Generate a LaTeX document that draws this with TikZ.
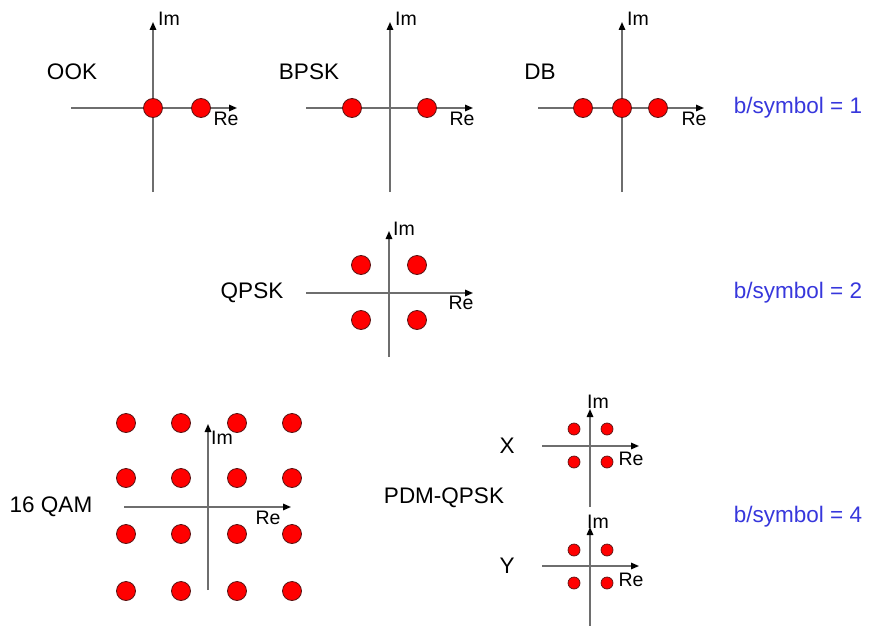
\documentclass[tikz,border=0pt]{standalone}
\usepackage{fontspec}
\setmainfont{Liberation Sans}
\usetikzlibrary{arrows.meta}
\definecolor{axisgray}{RGB}{110,110,110}
\definecolor{symblue}{RGB}{55,55,220}
\definecolor{dotred}{RGB}{255,0,0}
\definecolor{dotedge}{RGB}{90,20,20}
\tikzset{
 axisline/.style={draw=axisgray, line width=1.5pt},
 axisarrow/.style={axisline, -{Triangle[black,length=8pt,width=6.5pt]}},
 bigdot/.style={circle, fill=dotred, draw=dotedge, line width=0.8pt, minimum size=19pt, inner sep=0pt},
 smalldot/.style={circle, fill=dotred, draw=dotedge, line width=0.7pt, minimum size=12pt, inner sep=0pt},
 lbl/.style={font=\fontsize{22.5}{24}\selectfont, inner sep=0pt},
 axlbl/.style={font=\fontsize{19.5}{21}\selectfont, inner sep=0pt},
 rate/.style={font=\fontsize{22.5}{24}\selectfont, text=symblue, inner sep=0pt},
}
\begin{document}
\begin{tikzpicture}[x=1pt,y=-1pt]
\useasboundingbox (0,0) rectangle (870,626);

% ---------- OOK ----------
\coordinate (ookT) at (153,22);  \coordinate (ookB) at (153,192);
\coordinate (ookL) at (71,108);  \coordinate (ookR) at (237,108);
\draw[axisarrow] (ookB) -- (ookT);
\draw[axisarrow] (ookL) -- (ookR);
\node[lbl] (ookname) at (72,72) {OOK};
\node[axlbl] (ookim) at (169,19) {Im};
\node[axlbl] (ookre) at (226,119) {Re};
\node[bigdot] (ook1) at (153,108) {};
\node[bigdot] (ook2) at (201,108) {};

% ---------- BPSK ----------
\coordinate (bpT) at (390,22);  \coordinate (bpB) at (390,192);
\coordinate (bpL) at (306,108); \coordinate (bpR) at (473,108);
\draw[axisarrow] (bpB) -- (bpT);
\draw[axisarrow] (bpL) -- (bpR);
\node[lbl] (bpname) at (309,72) {BPSK};
\node[axlbl] (bpim) at (406,19) {Im};
\node[axlbl] (bpre) at (462,119) {Re};
\node[bigdot] (bp1) at (352,108) {};
\node[bigdot] (bp2) at (427,108) {};

% ---------- DB ----------
\coordinate (dbT) at (622,22);  \coordinate (dbB) at (622,192);
\coordinate (dbL) at (538,108); \coordinate (dbR) at (704,108);
\draw[axisarrow] (dbB) -- (dbT);
\draw[axisarrow] (dbL) -- (dbR);
\node[lbl] (dbname) at (540,72) {DB};
\node[axlbl] (dbim) at (638,19) {Im};
\node[axlbl] (dbre) at (694,119) {Re};
\node[bigdot] (db1) at (583,108) {};
\node[bigdot] (db2) at (622,108) {};
\node[bigdot] (db3) at (658,108) {};
\node[rate] (rate1) at (798,108) {b/symbol = 1};

% ---------- QPSK ----------
\coordinate (qT) at (389,231);  \coordinate (qB) at (389,357);
\coordinate (qL) at (306,293);  \coordinate (qR) at (473,293);
\draw[axisarrow] (qB) -- (qT);
\draw[axisarrow] (qL) -- (qR);
\node[lbl] (qname) at (252,293) {QPSK};
\node[axlbl] (qim) at (404,229) {Im};
\node[axlbl] (qre) at (461,303) {Re};
\node[bigdot] (q1) at (361,265) {};
\node[bigdot] (q2) at (417,265) {};
\node[bigdot] (q3) at (361,320) {};
\node[bigdot] (q4) at (417,320) {};
\node[rate] (rate2) at (798,293) {b/symbol = 2};

% ---------- 16 QAM ----------
\coordinate (mT) at (208,424);  \coordinate (mB) at (208,590);
\coordinate (mL) at (124,507);  \coordinate (mR) at (291,507);
\draw[axisarrow] (mB) -- (mT);
\draw[axisarrow] (mL) -- (mR);
\node[lbl] (mname) at (51,507) {16 QAM};
\node[axlbl] (mim) at (222,438) {Im};
\node[axlbl] (mre) at (268,518) {Re};
\foreach \i/\x in {1/126,2/181,3/237,4/292}{
  \foreach \j/\y in {1/423,2/478,3/534,4/591}{
    \node[bigdot] (m\i\j) at (\x,\y) {};
  }
}

% ---------- PDM-QPSK ----------
\node[lbl] (pname) at (444,498) {PDM-QPSK};
% X
\coordinate (xT) at (590,409);  \coordinate (xB) at (590,507);
\coordinate (xL) at (542,446);  \coordinate (xR) at (639,446);
\draw[axisarrow] (xB) -- (xT);
\draw[axisarrow] (xL) -- (xR);
\node[lbl] (xname) at (507,446) {X};
\node[axlbl] (xim) at (598,402) {Im};
\node[axlbl] (xre) at (631,459) {Re};
\node[smalldot] (x1) at (574,429) {};
\node[smalldot] (x2) at (607,429) {};
\node[smalldot] (x3) at (574,462) {};
\node[smalldot] (x4) at (607,462) {};
% Y
\coordinate (yT) at (590,527);  \coordinate (yB) at (590,626);
\coordinate (yL) at (542,566);  \coordinate (yR) at (639,566);
\draw[axisarrow] (yB) -- (yT);
\draw[axisarrow] (yL) -- (yR);
\node[lbl] (yname) at (507,566) {Y};
\node[axlbl] (yim) at (598,522) {Im};
\node[axlbl] (yre) at (631,580) {Re};
\node[smalldot] (y1) at (574,550) {};
\node[smalldot] (y2) at (607,550) {};
\node[smalldot] (y3) at (574,583) {};
\node[smalldot] (y4) at (607,583) {};
\node[rate] (rate4) at (798,517) {b/symbol = 4};
\end{tikzpicture}
\end{document}
